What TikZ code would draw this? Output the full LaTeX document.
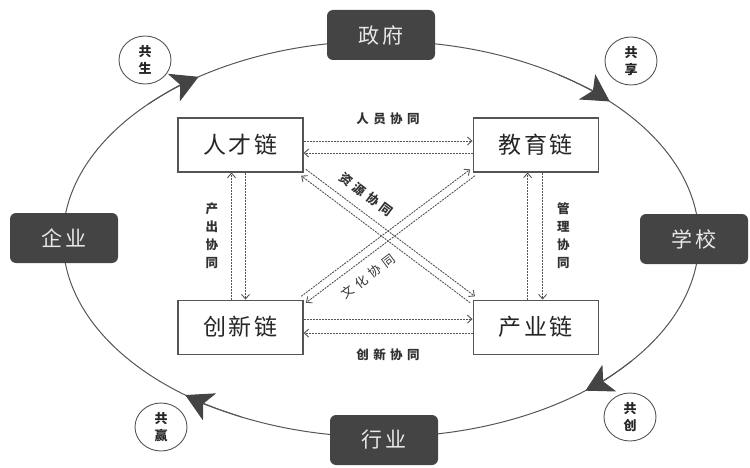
\documentclass[tikz,border=0pt]{standalone}
\usepackage{fontspec}
\setmainfont{Noto Sans CJK SC}
\newfontfamily\spacedfont[LetterSpace=12]{Noto Sans CJK SC}
\newfontfamily\widefont[LetterSpace=35]{Noto Sans CJK SC}
\usetikzlibrary{positioning,arrows.meta,calc,shapes.geometric}
\definecolor{HubFill}{RGB}{68,68,68}
\definecolor{HubText}{RGB}{232,232,232}
\definecolor{ChainLine}{RGB}{85,85,85}
\definecolor{FlowLine}{RGB}{85,85,85}
\definecolor{LabelText}{RGB}{50,50,50}

\begin{document}
\begin{tikzpicture}[
  x=1pt, y=1pt,
  node distance=127pt and 169pt,
  hub/.style={
    rectangle, rounded corners=6pt, fill=HubFill, text=HubText,
    minimum width=108pt, minimum height=50pt, font=\spacedfont\fontsize{21}{24}\selectfont
  },
  chainbox/.style={
    rectangle, draw=ChainLine, line width=1.1pt, fill=white, text=black!85,
    minimum width=125pt, minimum height=54pt, font=\spacedfont\fontsize{23}{26}\selectfont
  },
  badge/.style={
    ellipse, draw=ChainLine, line width=0.9pt, fill=white, minimum width=52pt, minimum height=48pt,
    inner sep=0pt, align=center, text=black!85, font=\bfseries\fontsize{13}{17}\selectfont
  },
  ring/.style={draw=ChainLine, line width=1pt},
  ringtip/.style={ring, -{Stealth[length=27pt, width=30pt, inset=7pt, color=HubFill]}},
  flow/.style={draw=FlowLine, line width=0.9pt, dash pattern=on 2pt off 1pt,
    -{Straight Barb[length=4.5pt, width=8pt]}},
  lbl/.style={font=\widefont\bfseries\fontsize{12.5}{18}\selectfont, text=LabelText, inner sep=1pt, align=center},
  thinlbl/.style={font=\widefont\fontsize{12.5}{18}\selectfont, text=LabelText, inner sep=1pt}
]
\useasboundingbox (0,0) rectangle (750,-468);

% Outer ring and its clockwise arrows
\coordinate (mid) at (381,-239);
\draw[ring] (mid) ellipse[x radius=318, y radius=198];
\draw[ringtip] ($(mid)+(137:318 and 198)$) arc[start angle=137, end angle=125, x radius=318, y radius=198];
\draw[ringtip] ($(mid)+(56:318 and 198)$) arc[start angle=56, end angle=44, x radius=318, y radius=198];
\draw[ringtip] ($(mid)+(-38:318 and 198)$) arc[start angle=-38, end angle=-50, x radius=318, y radius=198];
\draw[ringtip] ($(mid)+(244:318 and 198)$) arc[start angle=244, end angle=232, x radius=318, y radius=198];

% Actors on the ring
\node[hub] (zhengfu) at (381,-35) {政府};
\node[hub] (qiye) at (64,-238) {企业};
\node[hub] (xuexiao) at (694,-239) {学校};
\node[hub] (hangye) at (384,-440) {行业};

\node[badge] (gongsheng) at (145,-60) {共\\生};
\node[badge] (gongxiang) at (631,-61) {共\\享};
\node[badge] (gongchuang) at (630,-417) {共\\创};
\node[badge] (gongying) at (161,-427) {共\\赢};

% The four chains
\node[chainbox] (rencai) at (240.5,-145) {人才链};
\node[chainbox, right=of rencai] (jiaoyu) {教育链};
\node[chainbox, below=of rencai] (chuangxin) {创新链};
\node[chainbox, right=of chuangxin] (chanye) {产业链};

% --- edges ---
\draw[flow] ([yshift=4pt]rencai.east) -- ([yshift=4pt]jiaoyu.west)
  node[midway, above=15pt, lbl]{人员协同};
\draw[flow] ([yshift=-8pt]jiaoyu.west) -- ([yshift=-8pt]rencai.east);

\draw[flow] ([yshift=8pt]chuangxin.east) -- ([yshift=8pt]chanye.west);
\draw[flow] ([yshift=-6pt]chanye.west) -- ([yshift=-6pt]chuangxin.east)
  node[midway, below=14pt, lbl]{创新协同};

\draw[flow] ([xshift=-9pt]chuangxin.north) -- ([xshift=-9pt]rencai.south)
  node[midway, left=12pt, lbl]{产\\出\\协\\同};
\draw[flow] ([xshift=5pt]rencai.south) -- ([xshift=5pt]chuangxin.north);

\draw[flow] ([xshift=-8pt]chanye.north) -- ([xshift=-8pt]jiaoyu.south);
\draw[flow] ([xshift=7pt]jiaoyu.south) -- ([xshift=7pt]chanye.north)
  node[midway, right=13pt, lbl]{管\\理\\协\\同};

% Cross links
\draw[flow] ([shift={(2.4,3.2)}]rencai.south east) -- ([shift={(2.4,3.2)}]chanye.north west)
  node[pos=0.3, sloped, above=9pt, lbl]{资源协同};
\draw[flow] ([shift={(-2.4,-3.2)}]chanye.north west) -- ([shift={(-2.4,-3.2)}]rencai.south east);

\draw[flow] ([shift={(-2.4,3.2)}]chuangxin.north east) -- ([shift={(-2.4,3.2)}]jiaoyu.south west);
\draw[flow] ([shift={(2.4,-3.2)}]jiaoyu.south west) -- ([shift={(2.4,-3.2)}]chuangxin.north east)
  node[pos=0.69, sloped, below=9pt, thinlbl]{文化协同};

\end{tikzpicture}
\end{document}
